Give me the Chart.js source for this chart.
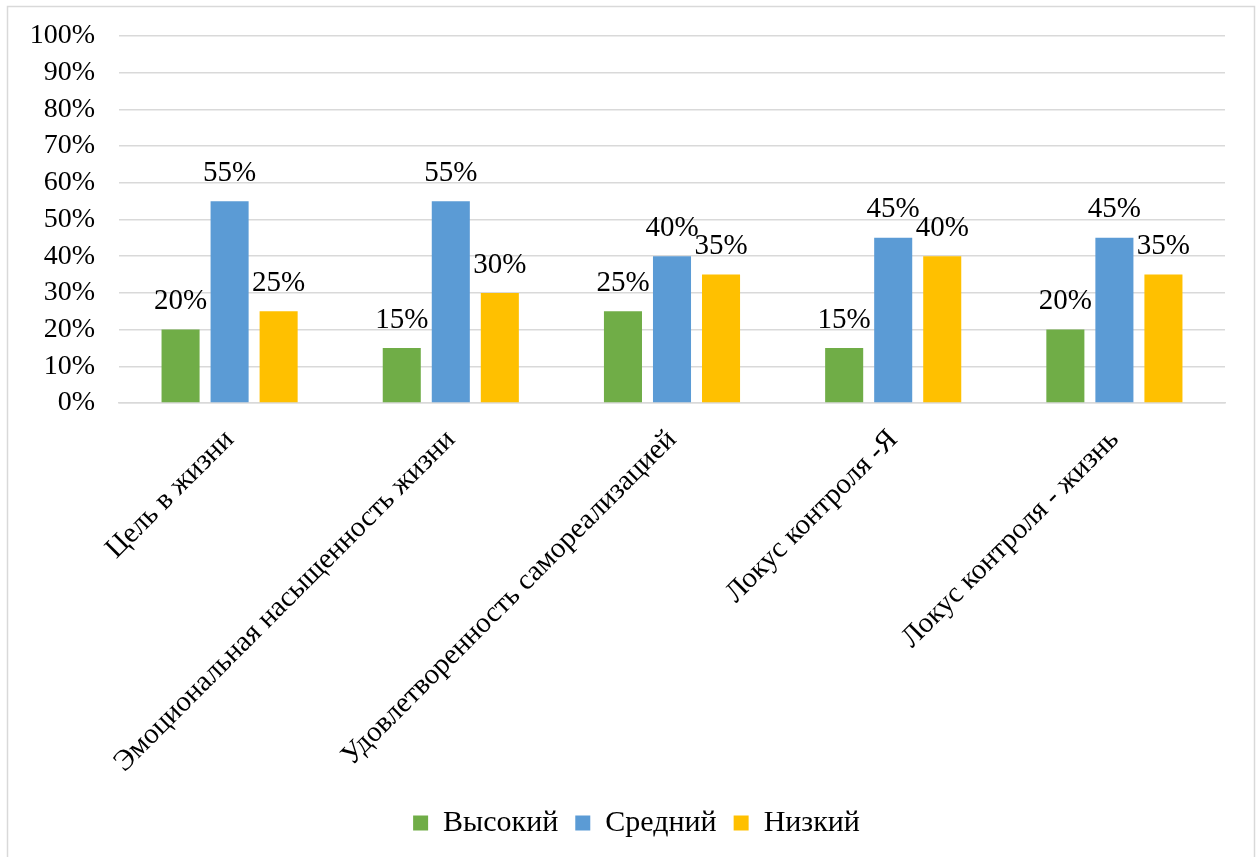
<!DOCTYPE html>
<html><head><meta charset="utf-8">
<script src="https://cdn.jsdelivr.net/npm/chart.js@4/dist/chart.umd.min.js"></script>
<style>html,body{margin:0;padding:0;background:#fff;overflow:hidden}#wrap{position:absolute;left:0;top:0;width:1260px;height:857px}
#probe{position:absolute;left:-9999px;font-family:'Liberation Serif';font-size:28px}</style>
</head><body><div id="probe">Высокий 100%</div><div id="wrap"><canvas id="c" width="1260" height="857"></canvas></div>
<script>
const categories = ["Цель в жизни", "Эмоциональная насыщенность жизни", "Удовлетворенность самореализацией", "Локус контроля -Я", "Локус контроля - жизнь"];
const seriesNames = ["Высокий", "Средний", "Низкий"];
const highValues = [20, 15, 25, 15, 20];
const midValues = [55, 55, 40, 45, 45];
const lowValues = [25, 30, 35, 40, 35];
const seriesColors = ["#70AD47", "#5B9BD5", "#FFC000"];
const yTicks = [0, 10, 20, 30, 40, 50, 60, 70, 80, 90, 100];

const FONT = "'Liberation Serif'";

const borderPlugin = {
  id: 'frame',
  beforeDraw(chart) {
    const ctx = chart.ctx;
    ctx.save();
    ctx.fillStyle = '#fff';
    ctx.fillRect(0, 0, chart.width, chart.height);
    ctx.strokeStyle = '#d9d9d9';
    ctx.lineWidth = 1.5;
    ctx.strokeRect(7.5, 6.5, 1247, 860);
    ctx.restore();
  }
};

// centre the legend under the whole frame rather than under the plot
const legendShift = {
  id: 'legendShift',
  afterLayout(chart) {
    if (chart.legend) { chart.legend.left += 24; chart.legend.right += 24; }
  }
};

const labelPlugin = {
  id: 'valueLabels',
  afterDatasetsDraw(chart) {
    const ctx = chart.ctx;
    ctx.save();
    ctx.font = "29px " + FONT;
    ctx.fillStyle = '#000';
    ctx.textAlign = 'center';
    ctx.textBaseline = 'middle';
    chart.data.datasets.forEach((ds, i) => {
      const meta = chart.getDatasetMeta(i);
      meta.data.forEach((el, j) => {
        ctx.fillText(ds.data[j] + '%', el.x, el.y - 28);
      });
    });
    ctx.restore();
  }
};

const datasets = [highValues, midValues, lowValues].map((vals, i) => ({
  label: seriesNames[i],
  data: vals,
  backgroundColor: seriesColors[i],
  borderWidth: 0,
  categoryPercentage: 0.665,
  barPercentage: 0.776
}));

function draw() {
  new Chart(document.getElementById('c'), {
    type: 'bar',
    data: { labels: categories, datasets },
    options: {
      responsive: false,
      animation: false,
      layout: { padding: { left: 0, right: 35, top: 36, bottom: 9 } },
      plugins: {
        legend: {
          position: 'bottom',
          labels: {
            font: { family: FONT, size: 30 },
            color: '#000',
            boxWidth: 15,
            boxHeight: 15,
            padding: 17
          }
        },
        tooltip: { enabled: false }
      },
      scales: {
        y: {
          min: 0, max: 100,
          afterBuildTicks(scale) { scale.ticks = yTicks.map(v => ({ value: v })); },
          afterFit(scale) { scale.width = 119; scale.paddingTop = 0; scale.paddingBottom = 0; },
          ticks: {
            font: { family: FONT, size: 28 },
            color: '#000',
            padding: 24,
            autoSkip: false,
            callback: v => v + '%'
          },
          grid: { color: '#d9d9d9', lineWidth: 1.5, drawTicks: false },
          border: { display: false }
        },
        x: {
          afterFit(scale) { scale.height = 388; scale.paddingLeft = 0; scale.paddingRight = 0; },
          ticks: {
            font: { family: FONT, size: 29 },
            color: '#000',
            maxRotation: 45,
            minRotation: 45,
            autoSkip: false,
            padding: 20
          },
          grid: { display: false, drawTicks: false },
          border: { color: '#d9d9d9', width: 1.5 }
        }
      }
    },
    plugins: [borderPlugin, legendShift, labelPlugin]
  });
}

if (document.fonts && document.fonts.load) {
  document.fonts.load("28px 'Liberation Serif'", "Высокий 100%").then(draw, draw);
} else { draw(); }
</script>
</body></html>
